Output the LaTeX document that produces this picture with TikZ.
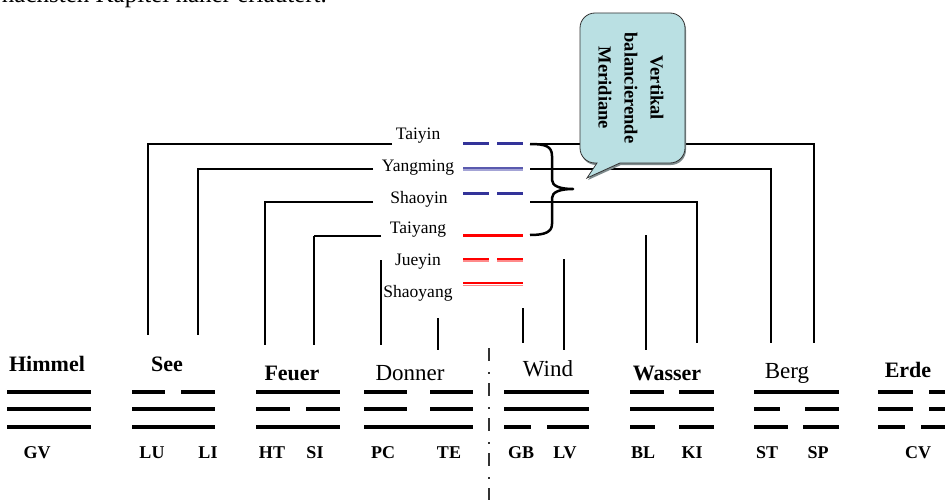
\documentclass[tikz,border=0pt]{standalone}
\usepackage{fontspec}
\setmainfont{Liberation Serif}
\definecolor{mblue}{HTML}{333399}
\definecolor{mbluetop}{HTML}{5A5AAE}
\definecolor{mbluebot}{HTML}{A4A4D6}
\definecolor{mred}{HTML}{FF0000}
\definecolor{mredlight}{HTML}{FF8A8A}
\definecolor{callfill}{HTML}{BAE0E3}
\definecolor{callshadow}{HTML}{7F8C8E}
\begin{document}
\begin{tikzpicture}[x=1pt,y=-1pt,
  tri/.style={line width=4pt},
  conn/.style={line width=1.7pt},
  connthick/.style={line width=2.3pt},
  connthin/.style={line width=1.2pt},
  merid/.style={font=\fontsize{17.5}{19}\selectfont, inner sep=1pt},
  trilabel/.style={font=\fontsize{22}{24}\selectfont\bfseries, inner sep=1pt},
  trilabelr/.style={font=\fontsize{23}{25}\selectfont, inner sep=1pt},
  code/.style={font=\fontsize{18}{20}\selectfont\bfseries, inner sep=1pt},
  colline/.style={line width=3pt}]
\useasboundingbox (0,0) rectangle (945,500);
\begin{scope}
\clip (0,0) rectangle (945,500);

% top text fragment
\node[anchor=base east, font=\fontsize{25}{27}\selectfont, inner sep=0pt] (toptext) at (327,3) {nächsten Kapitel näher erläutert.};

% meridian labels
\node[merid] (taiyin)   at (418,136) {Taiyin};
\node[merid] (yangming) at (418,168) {Yangming};
\node[merid] (shaoyin)  at (419,199) {Shaoyin};
\node[merid] (taiyang)  at (418,230) {Taiyang};
\node[merid] (jueyin)   at (418,262) {Jueyin};
\node[merid] (shaoyang) at (418,293) {Shaoyang};

% coloured meridian bars
\draw[colline, mblue] (463,144) -- (489,144) (497,144) -- (523,144);
\draw[line width=1.6pt, mbluetop] (463,168) -- (523,168);
\draw[line width=1.6pt, mbluebot] (463,170) -- (523,170);
\draw[colline, mblue] (463,193) -- (489,193) (497,193) -- (523,193);
\draw[colline, mred] (463,235) -- (523,235);
\draw[line width=1.6pt, mred] (463,259) -- (489,259) (497,259) -- (523,259);
\draw[line width=1.6pt, mredlight] (463,261) -- (489,261) (497,261) -- (523,261);
\draw[line width=1.8pt, mred] (463,283) -- (523,283);
\draw[line width=1.8pt, mredlight] (463,285.5) -- (523,285.5);

% trigram labels
\node[trilabel]  (himmel) at (47,364)  {Himmel};
\node[trilabel]  (see)    at (167,364) {See};
\node[trilabel]  (feuer)  at (292,373) {Feuer};
\node[trilabelr] (donner) at (410,373) {Donner};
\node[trilabelr] (wind)   at (548,369) {Wind};
\node[trilabel]  (wasser) at (667,373) {Wasser};
\node[trilabelr] (berg)   at (787,373) {Berg};
\node[trilabel]  (erde)   at (908,370) {Erde};

% codes
\node[code] (GV) at (37,453)  {GV};
\node[code] (LU) at (152,453) {LU};
\node[code] (LI) at (208,453) {LI};
\node[code] (HT) at (272,453) {HT};
\node[code] (SI) at (315,453) {SI};
\node[code] (PC) at (383,453) {PC};
\node[code] (TE) at (449,453) {TE};
\node[code] (GB) at (521,453) {GB};
\node[code] (LV) at (565,453) {LV};
\node[code] (BL) at (643,453) {BL};
\node[code] (KI) at (692,453) {KI};
\node[code] (ST) at (767,453) {ST};
\node[code] (SP) at (818,453) {SP};
\node[code] (CV) at (918,453) {CV};

% connector end points
\coordinate (tyL)  at (392,144);
\coordinate (ymL)  at (373,169);
\coordinate (syL)  at (373,202);
\coordinate (tgL)  at (381,236);
\coordinate (tyR)  at (530,144);
\coordinate (ymR)  at (530,169);
\coordinate (syR)  at (530,202);
\coordinate (pLU)  at (148,335);
\coordinate (pLI)  at (198,335);
\coordinate (pHT)  at (265,345);
\coordinate (pSItop) at (314,236);
\coordinate (pSI)  at (314,345);
\coordinate (pPCtop) at (381,260);
\coordinate (pPC)  at (381,345);
\coordinate (pTEtop) at (438,318);
\coordinate (pTE)  at (438,350);
\coordinate (pGBtop) at (523,308);
\coordinate (pGB)  at (523,343);
\coordinate (pLVtop) at (564,259);
\coordinate (pLV)  at (564,350);
\coordinate (pBLtop) at (646,235);
\coordinate (pBL)  at (646,350);
\coordinate (pKI)  at (697,343);
\coordinate (pST)  at (771,343);
\coordinate (pSP)  at (814,343);

% connectors left
\draw[conn] (tyL) -| (pLU);
\draw[conn] (ymL) -| (pLI);
\draw[connthick] (syL) -| (pHT);
\draw[connthin] (tgL) -- (pSItop);
\draw[line width=2.5pt] (pSItop) -- (pSI);
\draw[connthin] (pPCtop) -- (pPC);
\draw[connthin] (pTEtop) -- (pTE);
% connectors right
\draw[conn] (tyR) -| (pSP);
\draw[conn] (ymR) -| (pST);
\draw[connthick] (syR) -| (pKI);
\draw[conn] (pBLtop) -- (pBL);
\draw[conn] (pLVtop) -- (pLV);
\draw[connthin] (pGBtop) -- (pGB);

% brace
\draw[line width=2.5pt, line join=round]
  (530,144) .. controls (545,144) and (552,146) .. (552,156) -- (552,180)
  .. controls (552,186) and (560,189) .. (573,189)
  .. controls (560,189) and (552,192) .. (552,198) -- (552,224)
  .. controls (552,232) and (545,235) .. (530,235);

% dash-dot divider
\draw[line width=2.5pt, black!80, dash pattern=on 13pt off 11pt on 2pt off 9pt] (489,348) -- (489,505);

% trigrams
% Himmel
\draw[tri] (7,392) -- (91,392) (7,409) -- (91,409) (7,427) -- (91,427);
% See
\draw[tri] (132,392) -- (165,392) (181,392) -- (215,392) (132,409) -- (215,409) (132,427) -- (215,427);
% Feuer
\draw[tri] (256,392) -- (340,392) (256,409) -- (290,409) (306,409) -- (340,409) (256,427) -- (340,427);
% Donner
\draw[tri] (364,392) -- (407,392) (430,392) -- (473,392) (364,409) -- (407,409) (430,409) -- (473,409) (364,427) -- (473,427);
% Wind
\draw[tri] (504,392) -- (589,392) (504,409) -- (589,409) (504,427) -- (531,427) (547,427) -- (589,427);
% Wasser
\draw[tri] (630,392) -- (664,392) (679,392) -- (714,392) (630,409) -- (714,409) (630,427) -- (655,427) (679,427) -- (714,427);
% Berg
\draw[tri] (754,392) -- (839,392) (754,409) -- (780,409) (805,409) -- (839,409) (754,427) -- (788,427) (803,427) -- (839,427);
% Erde
\draw[tri] (878,392) -- (913,392) (929,392) -- (960,392) (878,409) -- (913,409) (929,409) -- (960,409) (878,427) -- (905,427) (921,427) -- (960,427);

% callout
\path[fill=callshadow, rounded corners=15pt]
  (621,165) -- (686,165) -- (686,15) -- (581,15) -- (581,165) [sharp corners] -- (598,165) -- (588,180) -- (621,165) -- cycle;
\path[draw=black!80, line width=0.8pt, fill=callfill, rounded corners=15pt]
  (620,163) -- (685,163) -- (685,13) -- (580,13) -- (580,163) [sharp corners] -- (597,163) -- (587,178) -- (620,163) -- cycle;
\node[rotate=-90, align=center, font=\fontsize{18.5}{26}\selectfont\bfseries, inner sep=0pt] (ctext) at (631,88) {Vertikal\\balancierende\\Meridiane};
\end{scope}
\end{tikzpicture}
\end{document}
